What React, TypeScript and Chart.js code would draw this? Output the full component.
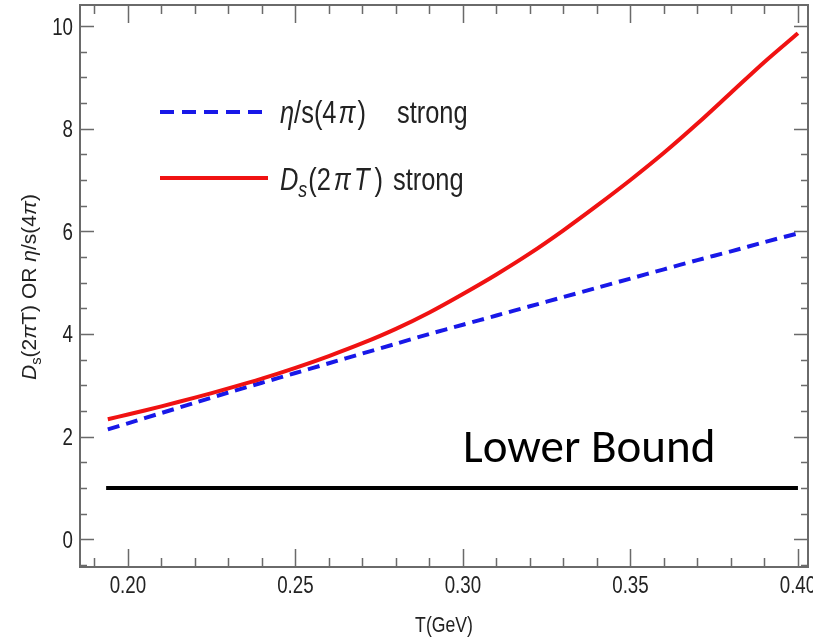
import React, { useEffect, useRef } from "react";
import { Chart, registerables } from "chart.js";

Chart.register(...registerables);

// ---- data ----
const temperature = [0.194, 0.2, 0.21, 0.22, 0.23, 0.24, 0.25, 0.26, 0.27, 0.28, 0.29, 0.3, 0.31, 0.32, 0.33, 0.34, 0.35, 0.36, 0.37, 0.38, 0.39, 0.4];
const dsStrong = [2.34, 2.43, 2.59, 2.76, 2.94, 3.13, 3.34, 3.57, 3.82, 4.1, 4.42, 4.78, 5.16, 5.57, 6.02, 6.5, 7.0, 7.53, 8.1, 8.7, 9.3, 9.86];
const etaStrong = [2.14, 2.26, 2.46, 2.66, 2.86, 3.05, 3.24, 3.43, 3.62, 3.81, 4.0, 4.18, 4.36, 4.54, 4.72, 4.9, 5.08, 5.26, 5.44, 5.61, 5.79, 5.96];
const boundT = [0.1935, 0.4];
const boundValue = [1, 1];

const xTickLabels = ["0.20", "0.25", "0.30", "0.35", "0.40"];
const yTickLabels = ["0", "2", "4", "6", "8", "10"];

const SANS = "'Liberation Sans', Arial, sans-serif";
const LB_FONT = "Carlito, 'Open Sans', sans-serif";
const CONDENSE = 0.82;
const TICK_CONDENSE = 0.78;
const RED = "rgb(240,18,18)";
const BLUE = "rgb(24,24,232)";
const FRAME = "#6a6a6a";
const TEXT = "#222";

type Seg = { t: string; it?: boolean; sub?: boolean; gap?: number };

// draws (optionally condensed) rich text starting at (x, y); returns its width
function drawRich(ctx: CanvasRenderingContext2D, segs: Seg[], x: number, y: number, size: number, measureOnly = false, squeeze = CONDENSE) {
  ctx.save();
  ctx.translate(x, y);
  ctx.scale(squeeze, 1);
  let cx = 0;
  for (const s of segs) {
    if (s.gap) { cx += s.gap / squeeze; continue; }
    const fs = s.sub ? size * 0.7 : size;
    ctx.font = `${s.it ? "italic " : ""}${fs}px ${SANS}`;
    if (!measureOnly) ctx.fillText(s.t, cx, s.sub ? size * 0.22 : 0);
    cx += ctx.measureText(s.t).width;
  }
  ctx.restore();
  return cx * squeeze;
}

function drawCondensed(ctx: CanvasRenderingContext2D, text: string, x: number, y: number, size: number, align: "left" | "center" | "right", squeeze = CONDENSE) {
  const w = drawRich(ctx, [{ t: text }], 0, 0, size, true, squeeze);
  const sx = align === "left" ? x : align === "center" ? x - w / 2 : x - w;
  drawRich(ctx, [{ t: text }], sx, y, size, false, squeeze);
}

const decorPlugin = {
  id: "decor",
  afterDatasetsDraw(chart: any) {
    const ctx: CanvasRenderingContext2D = chart.ctx;
    const { left, right, top, bottom } = chart.chartArea;
    const xs = chart.scales.x;
    const ys = chart.scales.y;
    ctx.save();
    ctx.strokeStyle = FRAME;
    ctx.lineWidth = 2;
    ctx.strokeRect(left, top, right - left, bottom - top);
    ctx.lineWidth = 1.5;
    ctx.beginPath();
    for (let i = Math.ceil(xs.min * 100); i <= Math.floor(xs.max * 100); i++) {
      const px = Math.round(xs.getPixelForValue(i / 100)) + 0.5;
      const len = i % 5 === 0 ? 18 : 9;
      ctx.moveTo(px, bottom); ctx.lineTo(px, bottom - len);
      ctx.moveTo(px, top); ctx.lineTo(px, top + len);
    }
    for (let i = Math.ceil(ys.min * 2); i <= Math.floor(ys.max * 2); i++) {
      const py = Math.round(ys.getPixelForValue(i / 2)) + 0.5;
      const len = i % 4 === 0 ? 14 : 7;
      ctx.moveTo(left, py); ctx.lineTo(left + len, py);
      ctx.moveTo(right, py); ctx.lineTo(right - len, py);
    }
    ctx.stroke();

    // tick labels at the library's tick positions
    ctx.fillStyle = TEXT;
    xs.ticks.forEach((t: any, i: number) => {
      const lbl = xTickLabels[i];
      if (lbl) drawCondensed(ctx, lbl, xs.getPixelForValue(t.value), 593, 24, "center", TICK_CONDENSE);
    });
    ys.ticks.forEach((t: any, i: number) => {
      const lbl = yTickLabels[i];
      if (lbl) drawCondensed(ctx, lbl, left - 7, ys.getPixelForValue(t.value) + 8.5, 24, "right", TICK_CONDENSE);
    });
    ctx.restore();
  },
  afterDraw(chart: any) {
    const ctx: CanvasRenderingContext2D = chart.ctx;
    ctx.save();
    ctx.fillStyle = TEXT;
    ctx.textBaseline = "alphabetic";
    ctx.textAlign = "left";

    // legend
    ctx.lineWidth = 4;
    ctx.strokeStyle = BLUE;
    ctx.setLineDash([14, 8]);
    ctx.beginPath(); ctx.moveTo(160, 112); ctx.lineTo(262, 112); ctx.stroke();
    ctx.setLineDash([]);
    ctx.strokeStyle = RED;
    ctx.beginPath(); ctx.moveTo(160, 178); ctx.lineTo(268, 178); ctx.stroke();

    const lsz = 31;
    drawRich(ctx, [{ t: "η", it: true }, { t: "/s(4" }, { gap: 2 }, { t: "π", it: true }, { gap: 2 }, { t: ")" }], 280, 123, lsz);
    drawRich(ctx, [{ t: "strong" }], 397, 123, lsz);
    drawRich(ctx, [{ t: "D", it: true }, { t: "s", it: true, sub: true }, { gap: 1 }, { t: "(2" }, { gap: 3 }, { t: "π", it: true }, { gap: 3 }, { t: "T", it: true }, { gap: 5 }, { t: ")" }], 280, 190, lsz);
    drawRich(ctx, [{ t: "strong" }], 393, 190, lsz);

    // lower bound annotation
    ctx.fillStyle = "#000";
    ctx.font = `47px ${LB_FONT}`;
    ctx.fillText("Lower Bound", 463, 462);

    // y axis title (rotated, regular width)
    ctx.fillStyle = TEXT;
    const ysz = 21;
    const ysegs: Seg[] = [{ t: "D", it: true }, { t: "s", sub: true }, { t: "(2" }, { t: "π", it: true }, { t: "T) OR " }, { t: "η", it: true }, { t: "/s(4" }, { t: "π", it: true }, { t: ")" }];
    ctx.translate(36, 287);
    ctx.rotate(-Math.PI / 2);
    const w = drawRich(ctx, ysegs, 0, 0, ysz, true, 1);
    drawRich(ctx, ysegs, -w / 2, 0, ysz, false, 1);
    ctx.setTransform(1, 0, 0, 1, 0, 0);

    // x axis title
    drawCondensed(ctx, "T(GeV)", 444, 632, 21.5, "center");
    ctx.restore();
  },
};

export default function App() {
  const ref = useRef<HTMLCanvasElement | null>(null);
  useEffect(() => {
    if (!ref.current) return;
    const toXY = (xs: number[], ys: number[]) => xs.map((x, i) => ({ x, y: ys[i] }));
    const chart = new Chart(ref.current, {
      type: "line",
      data: {
        datasets: [
          { label: "Ds(2πT) strong", data: toXY(temperature, dsStrong), borderColor: RED, borderWidth: 4, pointRadius: 0, tension: 0.3, fill: false },
          { label: "η/s(4π) strong", data: toXY(temperature, etaStrong), borderColor: BLUE, borderWidth: 4, borderDash: [12, 7], pointRadius: 0, tension: 0.3, fill: false },
          { label: "Lower Bound", data: toXY(boundT, boundValue), borderColor: "#000", borderWidth: 4, pointRadius: 0, fill: false },
        ],
      },
      options: {
        animation: false,
        responsive: false,
        devicePixelRatio: 1,
        layout: { padding: { left: 0, right: 5, top: 5, bottom: 0 } },
        plugins: { legend: { display: false }, tooltip: { enabled: false } },
        scales: {
          x: {
            type: "linear",
            min: 0.1857,
            max: 0.403,
            grid: { display: false, drawTicks: false },
            border: { display: false },
            ticks: { display: false, stepSize: 0.05, includeBounds: false, autoSkip: false },
            afterFit: (s: any) => { s.height = 71; s.paddingLeft = 0; s.paddingRight = 0; },
          },
          y: {
            type: "linear",
            min: -0.54,
            max: 10.41,
            grid: { display: false, drawTicks: false },
            border: { display: false },
            ticks: { display: false, stepSize: 2, includeBounds: false, autoSkip: false },
            afterFit: (s: any) => { s.width = 80; s.paddingTop = 0; s.paddingBottom = 0; },
          },
        },
      },
      plugins: [decorPlugin],
    });
    return () => chart.destroy();
  }, []);
  return (
    <div style={{ position: "absolute", left: 0, top: 0, width: 813, height: 638, background: "#fff" }}>
      <canvas ref={ref} width={813} height={638} />
    </div>
  );
}
